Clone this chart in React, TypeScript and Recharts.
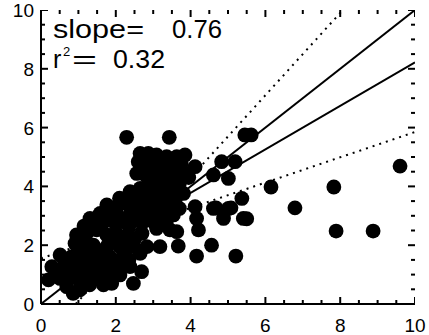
import React from "react";
import { ScatterChart, Scatter, XAxis, YAxis } from "recharts";

// Scatter values
const xs = [
  2.29, 3.43, 2.65, 2.87, 3.09, 3.36, 3.63, 3.85, 2.6, 2.83, 3.05, 3.32, 3.58, 4.12, 4.83, 5.19, 4.61, 5.01, 5.45, 5.62,
  2.38, 2.65, 2.96, 3.23, 3.5, 3.81, 1.76, 2.02, 2.29, 2.56, 2.83, 3.14, 3.45, 1.31, 1.58, 1.84, 2.25, 2.56, 2.91, 3.23,
  3.54, 4.12, 4.61, 5.01, 5.37, 4.16, 4.88, 5.41, 4.21, 3.09, 3.45, 3.63, 1.22, 1.49, 1.76, 2.02, 2.34, 0.91, 1.13, 1.4,
  1.76, 2.11, 2.47, 2.83, 3.18, 3.67, 4.56, 4.16, 5.21, 0.51, 0.82, 1.13, 1.49, 1.84, 2.2, 2.65, 0.29, 0.6, 0.95, 1.31,
  1.67, 2.02, 2.38, 2.69, 2.11, 0.2, 0.51, 0.86, 1.22, 1.58, 2.47, 0.69, 1.04, 1.67, 0.86, 1.89, 0.95, 1.49, 3.95, 6.15,
  7.83, 9.6, 6.79, 7.89, 8.88, 5.5, 4.68, 5.08, 2.83, 3.18, 3.54, 2.56,
  1.0, 1.3, 1.6, 1.9, 2.2, 2.5, 2.7, 1.0, 1.4, 1.7, 2.0, 2.35, 0.7, 0.4, 0.75, 1.1, 1.45, 1.8, 1.3, 1.05,
  2.1, 2.5, 2.75, 3.0, 3.3, 3.6, 2.0, 2.4, 2.7, 3.0, 3.35, 3.7, 1.65, 2.0, 2.35, 2.7, 3.0, 3.35, 1.15,
  2.75, 3.0, 3.25, 3.5, 3.75, 2.7, 3.0, 3.3, 3.8, 2.9, 3.3, 3.7,
];
const ys = [
  5.67, 5.67, 5.12, 5.12, 5.07, 5.01, 5.01, 5.07, 4.84, 4.78, 4.73, 4.67, 4.56, 4.67, 4.84, 4.84, 4.39, 4.27, 5.75, 5.75,
  3.82, 3.93, 3.99, 3.88, 3.88, 3.76, 3.37, 3.31, 3.42, 3.48, 3.42, 3.37, 3.42, 2.91, 3.08, 2.97, 2.91, 2.97, 3.03, 3.08,
  3.03, 3.31, 3.25, 3.25, 3.59, 2.91, 2.91, 2.91, 2.52, 2.57, 2.52, 2.46, 2.4, 2.52, 2.35, 2.4, 2.35, 2.06, 2.0, 2.0,
  1.95, 1.95, 1.95, 1.95, 1.95, 1.97, 2.0, 1.63, 1.63, 1.67, 1.61, 1.61, 1.61, 1.61, 1.67, 1.72, 1.27, 1.27, 1.27, 1.33,
  1.21, 1.27, 1.27, 1.1, 0.99, 0.82, 0.87, 0.93, 0.93, 0.82, 0.7, 0.59, 0.48, 0.65, 0.36, 0.7, 2.35, 2.74, 4.3, 3.98,
  3.98, 4.69, 3.27, 2.48, 2.48, 2.9, 3.27, 3.27, 4.33, 4.27, 4.22, 4.44,
  1.9, 1.75, 1.8, 2.2, 2.2, 2.2, 2.4, 1.45, 1.45, 1.45, 1.45, 1.5, 1.45, 1.1, 1.1, 1.1, 1.05, 1.0, 0.65, 0.75,
  3.6, 3.7, 3.7, 3.7, 3.65, 3.6, 3.15, 3.15, 3.2, 3.2, 3.2, 3.25, 2.75, 2.7, 2.65, 2.75, 2.8, 2.8, 2.65,
  4.95, 4.9, 4.85, 4.8, 4.8, 4.55, 4.5, 4.45, 4.5, 4.2, 4.05, 4.1,
];

// Fitted lines: one-to-one, regression, and slope bounds
const lineSlopes = [1.0, 0.74, 1.4, 0.43];
const lineIntercepts = [0.0, 0.82, -1.3, 1.55];
const lineDotted = [false, false, true, true];

const axisTicks = [0, 0.5, 1, 1.5, 2, 2.5, 3, 3.5, 4, 4.5, 5, 5.5, 6, 6.5, 7, 7.5, 8, 8.5, 9, 9.5, 10];
const majorTicks = [0, 2, 4, 6, 8, 10];

const slopeText = "0.76";
const r2Text = "0.32";

const points = xs.map((x, i) => ({ x, y: ys[i] }));

const DOMAIN_MIN = 0;
const DOMAIN_MAX = 10;

function clipSegment(m: number, b: number) {
  let x0 = DOMAIN_MIN;
  let x1 = DOMAIN_MAX;
  if (m * x0 + b < DOMAIN_MIN) x0 = (DOMAIN_MIN - b) / m;
  if (m * x1 + b > DOMAIN_MAX) x1 = (DOMAIN_MAX - b) / m;
  return [
    { x: x0, y: m * x0 + b },
    { x: x1, y: m * x1 + b },
  ];
}

const FONT = "'Liberation Sans', Arial, Helvetica, sans-serif";
const MINOR_LEN = 4;
const MAJOR_LEN = 7;
const TICK_W = 2;

const isMajor = (v: number) => majorTicks.includes(v);

// Tick marks on all four sides, placed through the scales as points on the frame
const bottomMarks = axisTicks.map((v) => ({ x: v, y: DOMAIN_MIN, major: isMajor(v) }));
const topMarks = axisTicks.map((v) => ({ x: v, y: DOMAIN_MAX, major: isMajor(v) }));
const leftMarks = axisTicks.map((v) => ({ x: DOMAIN_MIN, y: v, major: isMajor(v) }));
const rightMarks = axisTicks.map((v) => ({ x: DOMAIN_MAX, y: v, major: isMajor(v) }));

const makeMark = (dx: number, dy: number) => (props: any) => {
  const len = props.payload && props.payload.major ? MAJOR_LEN : MINOR_LEN;
  return (
    <line
      x1={props.cx}
      y1={props.cy}
      x2={props.cx + dx * len}
      y2={props.cy + dy * len}
      stroke="#000"
      strokeWidth={TICK_W}
    />
  );
};
const UpMark = makeMark(0, -1);
const DownMark = makeMark(0, 1);
const RightMark = makeMark(1, 0);
const LeftMark = makeMark(-1, 0);

const BottomLabel = (props: any) => {
  const { x, y, payload } = props;
  return (
    <text x={x} y={y + 28} textAnchor="middle" fontSize={19} fontFamily={FONT} fill="#000">
      {payload.value}
    </text>
  );
};

const LeftLabel = (props: any) => {
  const { x, y, payload } = props;
  return (
    <text x={x - 7} y={y + 7} textAnchor="end" fontSize={19} fontFamily={FONT} fill="#000">
      {payload.value}
    </text>
  );
};

const Dot = (props: any) => <circle cx={props.cx} cy={props.cy} r={7.4} fill="#000" />;
const NoShape = () => <g />;

const axisLine = { stroke: "#000", strokeWidth: 2 };

export default function App() {
  return (
    <div style={{ position: "absolute", left: 0, top: 0, width: 429, height: 335, background: "#fff" }}>
      <ScatterChart width={429} height={335} margin={{ top: 10, right: 14, bottom: 0, left: 0 }}>
        <XAxis
          xAxisId="b"
          dataKey="x"
          type="number"
          domain={[DOMAIN_MIN, DOMAIN_MAX]}
          ticks={majorTicks}
          interval={0}
          tickSize={0}
          tickMargin={0}
          tickLine={false}
          tick={<BottomLabel />}
          axisLine={axisLine}
          height={31}
          allowDataOverflow
        />
        <XAxis
          xAxisId="t"
          orientation="top"
          type="number"
          domain={[DOMAIN_MIN, DOMAIN_MAX]}
          ticks={majorTicks}
          tick={false}
          tickLine={false}
          axisLine={axisLine}
          height={0}
          allowDataOverflow
        />
        <YAxis
          yAxisId="l"
          dataKey="y"
          type="number"
          domain={[DOMAIN_MIN, DOMAIN_MAX]}
          ticks={majorTicks}
          interval={0}
          tickSize={0}
          tickMargin={0}
          tickLine={false}
          tick={<LeftLabel />}
          axisLine={axisLine}
          width={41}
          allowDataOverflow
        />
        <YAxis
          yAxisId="r"
          orientation="right"
          type="number"
          domain={[DOMAIN_MIN, DOMAIN_MAX]}
          ticks={majorTicks}
          tick={false}
          tickLine={false}
          axisLine={axisLine}
          width={0}
          allowDataOverflow
        />
        <Scatter xAxisId="b" yAxisId="l" data={bottomMarks} shape={UpMark} isAnimationActive={false} />
        <Scatter xAxisId="b" yAxisId="l" data={topMarks} shape={DownMark} isAnimationActive={false} />
        <Scatter xAxisId="b" yAxisId="l" data={leftMarks} shape={RightMark} isAnimationActive={false} />
        <Scatter xAxisId="b" yAxisId="l" data={rightMarks} shape={LeftMark} isAnimationActive={false} />
        <Scatter xAxisId="b" yAxisId="l" data={points} shape={<Dot />} isAnimationActive={false} />
        {lineSlopes.map((m, i) => (
          <Scatter
            key={i}
            xAxisId="b"
            yAxisId="l"
            data={clipSegment(m, lineIntercepts[i])}
            shape={<NoShape />}
            line={{
              stroke: "#000",
              strokeWidth: 2,
              strokeDasharray: lineDotted[i] ? "2 5" : undefined,
            }}
            isAnimationActive={false}
          />
        ))}
      </ScatterChart>
      <svg
        width={429}
        height={335}
        style={{ position: "absolute", left: 0, top: 0, pointerEvents: "none" }}
      >
        <g fontFamily={FONT} fill="#000">
          <text x={53} y={38} fontSize={25} textLength={91} lengthAdjust="spacingAndGlyphs">slope=</text>
          <text x={172} y={38} fontSize={25} textLength={50} lengthAdjust="spacingAndGlyphs">{slopeText}</text>
          <text x={53} y={68} fontSize={25}>r</text>
          <text x={63} y={56} fontSize={13}>2</text>
          <text x={72} y={68} fontSize={25} textLength={25} lengthAdjust="spacingAndGlyphs">=</text>
          <text x={113} y={68} fontSize={25} textLength={52} lengthAdjust="spacingAndGlyphs">{r2Text}</text>
        </g>
      </svg>
    </div>
  );
}
